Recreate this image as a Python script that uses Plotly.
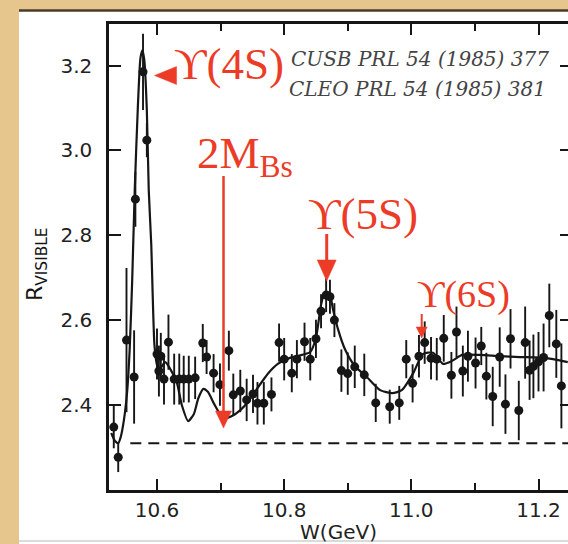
import plotly.graph_objects as go

# ---------------- data ----------------
W_GeV = [10.532, 10.539, 10.552, 10.564, 10.566, 10.578, 10.584, 10.600, 10.603, 10.606,
         10.611, 10.618, 10.627, 10.635, 10.642, 10.650, 10.660, 10.672, 10.678, 10.689,
         10.699, 10.713, 10.720, 10.731, 10.741, 10.751, 10.758, 10.768, 10.780, 10.792,
         10.800, 10.812, 10.820, 10.832, 10.841, 10.850, 10.858, 10.866, 10.872, 10.879,
         10.890, 10.900, 10.911, 10.926, 10.944, 10.966, 10.981, 10.992, 11.002, 11.012,
         11.021, 11.031, 11.040, 11.051, 11.063, 11.071, 11.081, 11.089, 11.101, 11.110,
         11.118, 11.128, 11.139, 11.148, 11.156, 11.169, 11.179, 11.186, 11.192, 11.200,
         11.208, 11.217, 11.228, 11.236]
R_vis = [2.348, 2.277, 2.553, 2.466, 2.885, 3.185, 3.024, 2.520, 2.480, 2.515,
         2.461, 2.548, 2.461, 2.461, 2.461, 2.461, 2.464, 2.546, 2.513, 2.475,
         2.448, 2.528, 2.424, 2.433, 2.412, 2.426, 2.404, 2.404, 2.425, 2.547,
         2.508, 2.475, 2.508, 2.549, 2.508, 2.556, 2.621, 2.659, 2.655, 2.600,
         2.481, 2.474, 2.490, 2.471, 2.405, 2.396, 2.405, 2.508, 2.451, 2.515,
         2.547, 2.510, 2.508, 2.557, 2.470, 2.572, 2.480, 2.515, 2.499, 2.539,
         2.468, 2.420, 2.513, 2.402, 2.556, 2.387, 2.547, 2.482, 2.491, 2.502,
         2.512, 2.611, 2.544, 2.445]
R_err = [0.050, 0.035, 0.170, 0.110, 0.065, 0.090, 0.040, 0.060, 0.060, 0.055,
         0.060, 0.065, 0.060, 0.060, 0.055, 0.055, 0.050, 0.045, 0.040, 0.045,
         0.050, 0.047, 0.050, 0.050, 0.050, 0.045, 0.050, 0.050, 0.040, 0.045,
         0.050, 0.045, 0.045, 0.045, 0.050, 0.045, 0.040, 0.040, 0.040, 0.040,
         0.050, 0.050, 0.050, 0.050, 0.045, 0.040, 0.040, 0.045, 0.045, 0.050,
         0.050, 0.050, 0.050, 0.055, 0.055, 0.060, 0.060, 0.060, 0.060, 0.045,
         0.055, 0.070, 0.070, 0.070, 0.070, 0.070, 0.085, 0.070, 0.075, 0.070,
         0.080, 0.075, 0.080, 0.100]

fit_x = [10.528, 10.534, 10.539, 10.543, 10.548, 10.553, 10.557, 10.561, 10.565, 10.570,
         10.574, 10.577, 10.580, 10.584, 10.587, 10.591, 10.593, 10.596, 10.600, 10.603,
         10.608, 10.613, 10.620, 10.631, 10.639, 10.649, 10.658, 10.665, 10.673, 10.680,
         10.690, 10.699, 10.707, 10.718, 10.731, 10.743, 10.759, 10.775, 10.790, 10.809,
         10.828, 10.841, 10.850, 10.858, 10.864, 10.871, 10.877, 10.885, 10.896, 10.911,
         10.930, 10.951, 10.970, 10.985, 11.003, 11.018, 11.034, 11.050, 11.064, 11.080,
         11.108, 11.139, 11.171, 11.210, 11.246]
fit_y = [2.334, 2.315, 2.310, 2.325, 2.365, 2.431, 2.530, 2.695, 2.907, 3.107,
         3.218, 3.236, 3.213, 3.095, 2.907, 2.777, 2.671, 2.541, 2.494, 2.482,
         2.492, 2.501, 2.487, 2.454, 2.400, 2.362, 2.379, 2.416, 2.438, 2.431,
         2.402, 2.379, 2.369, 2.374, 2.388, 2.407, 2.442, 2.475, 2.497, 2.511,
         2.518, 2.525, 2.558, 2.636, 2.666, 2.664, 2.624, 2.577, 2.530, 2.492,
         2.466, 2.435, 2.428, 2.435, 2.475, 2.520, 2.523, 2.497, 2.504, 2.518,
         2.518, 2.515, 2.513, 2.511, 2.501]

baseline_x = [10.558, 11.25]
baseline_y = [2.31, 2.31]

x_tickvals = [10.6, 10.8, 11.0, 11.2]
x_ticktext = ["10.6", "10.8", "11.0", "11.2"]
x_minor = [10.7, 10.9, 11.1]
y_tickvals = [2.4, 2.6, 2.8, 3.0, 3.2]
y_ticktext = ["2.4", "2.6", "2.8", "3.0", "3.2"]

# ---------------- layout geometry ----------------
FIG_W, FIG_H = 568, 544
M_L, M_R, M_T, M_B = 109, 0, 24, 54
PW = FIG_W - M_L - M_R
PH = FIG_H - M_T - M_B
X_RANGE = [10.5245, 11.2464]
Y_RANGE = [2.1997, 3.2978]
SX = PW / (X_RANGE[1] - X_RANGE[0])   # px per GeV
SY = PH / (Y_RANGE[1] - Y_RANGE[0])   # px per unit R


def px(x):
    return (x - M_L) / PW


def py(y):
    return (FIG_H - M_B - y) / PH


RED = "#EC3B26"
INK = "#161616"
SERIF = "Liberation Serif, DejaVu Serif, serif"
SANS = "DejaVu Sans, sans-serif"

fig = go.Figure()

fig.add_trace(go.Scatter(x=baseline_x, y=baseline_y, mode="lines", yaxis="y2",
                         line=dict(color=INK, width=2, dash="11px,7px"),
                         hoverinfo="skip"))
fig.add_trace(go.Scatter(x=fit_x, y=fit_y, mode="lines",
                         line=dict(color=INK, width=2.2, shape="spline", smoothing=0.6),
                         hoverinfo="skip"))
fig.add_trace(go.Scatter(x=W_GeV, y=R_vis, mode="markers",
                         marker=dict(color=INK, size=9),
                         error_y=dict(type="data", array=R_err, visible=True,
                                      color=INK, thickness=1.9, width=0)))

shapes = []
# parchment frame: white panel, dark top edge, grey bottom edge
shapes.append(dict(type="rect", xref="paper", yref="paper", layer="below",
                   x0=px(19), x1=px(575), y0=py(544), y1=py(10.5),
                   fillcolor="white", line=dict(width=0)))
shapes.append(dict(type="line", xref="paper", yref="paper",
                   x0=px(19), x1=px(575), y0=py(10.5), y1=py(10.5),
                   line=dict(color="#4a3b28", width=2.5)))
shapes.append(dict(type="line", xref="paper", yref="paper",
                   x0=px(19), x1=px(575), y0=py(541), y1=py(541),
                   line=dict(color="#cfcfcf", width=1.5)))


def down_arrow(x_tip, y_tip, y_top, head_w, head_h, lw):
    hy = y_tip + head_h / SY
    shapes.append(dict(type="line", xref="x", yref="y", x0=x_tip, x1=x_tip,
                       y0=y_top, y1=hy, line=dict(color=RED, width=lw)))
    hw = head_w / 2 / SX
    shapes.append(dict(type="path", xref="x", yref="y",
                       path=f"M {x_tip - hw},{hy} L {x_tip + hw},{hy} L {x_tip},{y_tip} Z",
                       fillcolor=RED, line=dict(color=RED, width=0.5)))


def left_head(x_tip, y_tip, length, half_h):
    bx = x_tip + length / SX
    hh = half_h / SY
    shapes.append(dict(type="path", xref="x", yref="y",
                       path=f"M {bx},{y_tip + hh} L {bx},{y_tip - hh} L {x_tip},{y_tip} Z",
                       fillcolor=RED, line=dict(color=RED, width=0.5)))


# arrow placements (annotation positions)
down_arrow(10.7046, 2.3458, 2.9396, 16, 17, 2.5)   # 2M_Bs
down_arrow(10.8669, 2.6922, 2.8029, 19, 21, 3)     # Upsilon(5S)
down_arrow(11.0163, 2.5579, 2.6144, 11, 11, 2)     # Upsilon(6S)
left_head(10.5961, 3.1764, 22, 9)                  # Upsilon(4S)

annotations = [
    dict(text="ϒ(4S)", x=px(229), y=py(64), font=dict(family=SERIF, size=45, color=RED)),
    dict(text="ϒ(5S)", x=px(362.5), y=py(214), font=dict(family=SERIF, size=45, color=RED)),
    dict(text="ϒ(6S)", x=px(463.5), y=py(294), font=dict(family=SERIF, size=38, color=RED)),
    dict(text="2M<sub>Bs</sub>", x=px(245), y=py(156), font=dict(family=SERIF, size=45, color=RED)),
    dict(text="<i>CUSB PRL 54 (1985) 377</i>", x=px(420), y=py(59),
         font=dict(family="DejaVu Serif, serif", size=20, color="#444444")),
    dict(text="<i>CLEO PRL 54 (1985) 381</i>", x=px(417), y=py(89),
         font=dict(family="DejaVu Serif, serif", size=20, color="#444444")),
    dict(text="R<sub>VISIBLE</sub>", x=px(36), y=py(264), textangle=-90,
         font=dict(family=SANS, size=22, color=INK)),
]
for a in annotations:
    a.update(xref="paper", yref="paper", showarrow=False, xanchor="center", yanchor="middle")

fig.update_layout(
    width=FIG_W, height=FIG_H,
    margin=dict(l=M_L, r=M_R, t=M_T, b=M_B, pad=0),
    paper_bgcolor="#E6C68C", plot_bgcolor="white",
    showlegend=False,
    shapes=shapes, annotations=annotations,
    xaxis=dict(range=X_RANGE, showline=True, linecolor=INK, linewidth=2.5, mirror="ticks",
               ticks="inside", ticklen=11, tickwidth=2, tickcolor=INK,
               tickvals=x_tickvals, ticktext=x_ticktext,
               minor=dict(tickvals=x_minor, ticks="inside", ticklen=7, tickwidth=2, tickcolor=INK),
               tickfont=dict(family=SANS, size=20, color="#222222"),
               ticklabelstandoff=0,
               showgrid=False, zeroline=False,
               title=dict(text="W(GeV)", font=dict(family=SANS, size=20, color="#222222"), standoff=4)),
    yaxis=dict(range=Y_RANGE, showline=True, linecolor=INK, linewidth=2.5,
               ticks="inside", ticklen=12, tickwidth=2, tickcolor=INK,
               tickvals=y_tickvals, ticktext=y_ticktext,
               tickfont=dict(family=SANS, size=20, color="#222222"),
               ticklabelstandoff=10,
               showgrid=False, zeroline=False),
    yaxis2=dict(range=Y_RANGE, overlaying="y", side="right", anchor="x",
                showline=False, ticks="inside", ticklen=8, tickwidth=2, tickcolor=INK,
                tickvals=y_tickvals, showticklabels=False, showgrid=False, zeroline=False),
)

fig.write_html("out.html")
